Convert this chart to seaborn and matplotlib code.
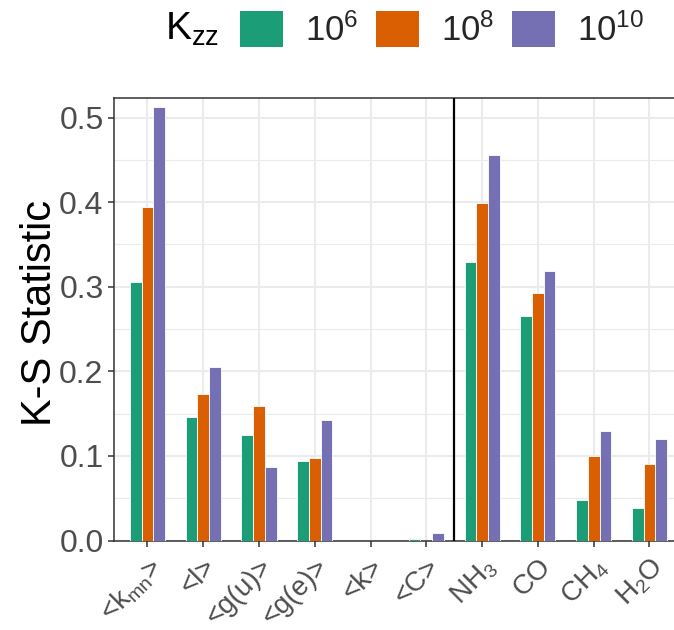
import matplotlib
matplotlib.use("Agg")
import matplotlib.pyplot as plt
import seaborn as sns
import pandas as pd
import numpy as np
from matplotlib.patches import Patch
from matplotlib.ticker import MultipleLocator

categories = ["kmn", "l", "gu", "ge", "k", "C", "NH3", "CO", "CH4", "H2O"]
tick_labels = ["<k$_{mn}$>", "<l>", "<g(u)>", "<g(e)>", "<k>", "<C>",
               "NH$_3$", "CO", "CH$_4$", "H$_2$O"]
kzz_levels = ["1e6", "1e8", "1e10"]
kzz_labels = ["10$^{6}$", "10$^{8}$", "10$^{10}$"]
vals_1e6 = [0.305, 0.146, 0.125, 0.094, 0.0, 0.002, 0.329, 0.265, 0.048, 0.039]
vals_1e8 = [0.394, 0.173, 0.159, 0.098, 0.0, 0.0, 0.399, 0.293, 0.100, 0.090]
vals_1e10 = [0.513, 0.205, 0.087, 0.142, 0.0, 0.009, 0.456, 0.319, 0.129, 0.120]
colors = ["#1B9E77", "#D95F02", "#7570B3"]

df = pd.DataFrame({
    "cat": categories * 3,
    "kzz": np.repeat(kzz_levels, len(categories)),
    "val": vals_1e6 + vals_1e8 + vals_1e10,
})

sns.set_theme(style="white")
plt.rcParams["font.family"] = ["Liberation Sans", "DejaVu Sans"]
plt.rcParams["mathtext.fontset"] = "custom"
plt.rcParams["mathtext.rm"] = "Liberation Sans"
plt.rcParams["mathtext.it"] = "Liberation Sans:italic"
plt.rcParams["mathtext.default"] = "regular"

W, H = 674, 630
fig = plt.figure(figsize=(W / 100, H / 100), dpi=100)
ax_left, ax_right, ax_top, ax_bot = 114, 682.9, 98.3, 540.5
ax = fig.add_axes([ax_left / W, 1 - ax_bot / H, (ax_right - ax_left) / W, (ax_bot - ax_top) / H])

sns.barplot(data=df, x="cat", y="val", hue="kzz", order=categories, hue_order=kzz_levels,
            palette=colors, saturation=1, width=0.63, edgecolor="white", linewidth=0.6,
            legend=False, ax=ax, zorder=3)

ax.set_xlim(-0.6, 9.6)
ax.set_ylim(0, 0.5227)
ax.yaxis.set_major_locator(MultipleLocator(0.1))
ax.yaxis.set_minor_locator(MultipleLocator(0.05))
ax.set_yticks([0, 0.1, 0.2, 0.3, 0.4, 0.5])
ax.set_yticklabels(["0.0", "0.1", "0.2", "0.3", "0.4", "0.5"])
ax.set_xticks(range(len(categories)))
ax.set_xticklabels(tick_labels, rotation=45, ha="right", rotation_mode="anchor")

ax.grid(True, which="major", axis="both", color="#EBEBEB", linewidth=1.5, zorder=0)
ax.grid(True, which="minor", axis="y", color="#EBEBEB", linewidth=0.8, zorder=0)
ax.set_axisbelow(True)

for s in ax.spines.values():
    s.set_color("#333333")
    s.set_linewidth(1.1)

ax.tick_params(axis="both", which="major", direction="out", length=4.5, width=1.1,
               color="#333333", labelcolor="#4D4D4D", pad=3,
               bottom=True, left=True)
ax.tick_params(axis="y", labelsize=23)
ax.tick_params(axis="x", labelsize=20, pad=5)
ax.tick_params(axis="both", which="minor", length=0)

ax.axvline(5.5, color="black", linewidth=1.6, zorder=4)

ax.set_xlabel("")
ax.set_ylabel("K-S Statistic", fontsize=30, color="black")
ax.yaxis.set_label_coords(-0.095, 0.514)

handles = [Patch(facecolor=c, edgecolor="none") for c in colors]
fig.legend(handles, kzz_labels, loc="center left", bbox_to_anchor=(240 / W, 1 - 29 / H),
           ncol=3, frameon=False, fontsize=25, handlelength=1.23, handleheight=1.23,
           handletextpad=0.65, columnspacing=0.5, borderpad=0, borderaxespad=0)
fig.text(165 / W, 1 - 29 / H, "K$_{zz}$", fontsize=28, ha="left", va="center", color="black")

fig.savefig("out.png", dpi=100)
